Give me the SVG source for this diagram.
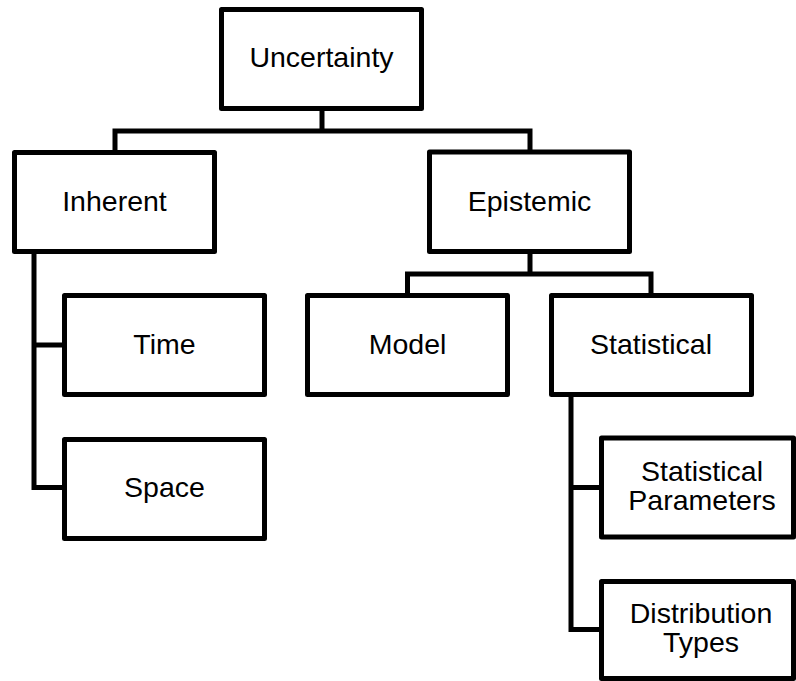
<svg xmlns="http://www.w3.org/2000/svg" width="796" height="681" viewBox="0 0 796 681">
<style>
.box{fill:#fff;stroke:#000;stroke-width:5;stroke-linejoin:round}
.con{fill:none;stroke:#000;stroke-width:5;stroke-linejoin:miter;stroke-linecap:butt}
text{font-family:"Liberation Sans",Arial,sans-serif;font-size:28.5px;fill:#000;text-anchor:middle}
</style>
<rect width="796" height="681" fill="#fff"/>
<g id="connectors">
<path class="con" d="M322,109 V131 M115,152 V131 H530 V151"/>
<path class="con" d="M530,252 V274 M407.5,295 V274 H651 V295"/>
<path class="con" d="M34,252 V487.5 H64 M34,345 H64"/>
<path class="con" d="M571,397 V629.5 H601 M571,487.5 H601"/>
</g>
<g id="uncertainty"><rect class="box" x="221.5" y="9.5" width="200" height="99"/><text x="321.5" y="67">Uncertainty</text></g>
<g id="inherent"><rect class="box" x="14.5" y="152.5" width="200" height="99"/><text x="114.5" y="211">Inherent</text></g>
<g id="epistemic"><rect class="box" x="429.5" y="152" width="200" height="99.5"/><text x="529.5" y="211">Epistemic</text></g>
<g id="time"><rect class="box" x="64.5" y="295.5" width="200" height="99"/><text x="164.5" y="354">Time</text></g>
<g id="space"><rect class="box" x="64.5" y="439.5" width="200" height="99"/><text x="164.5" y="497">Space</text></g>
<g id="model"><rect class="box" x="307.5" y="295.5" width="200" height="99"/><text x="407.5" y="354">Model</text></g>
<g id="statistical"><rect class="box" x="551.5" y="295.5" width="200" height="99"/><text x="651" y="354">Statistical</text></g>
<g id="statistical-parameters"><rect class="box" x="601.5" y="438" width="192" height="99"/><text x="702" y="481">Statistical</text><text x="702" y="510">Parameters</text></g>
<g id="distribution-types"><rect class="box" x="601.5" y="581.5" width="192" height="97"/><text x="701" y="623">Distribution</text><text x="701" y="652">Types</text></g>
</svg>
